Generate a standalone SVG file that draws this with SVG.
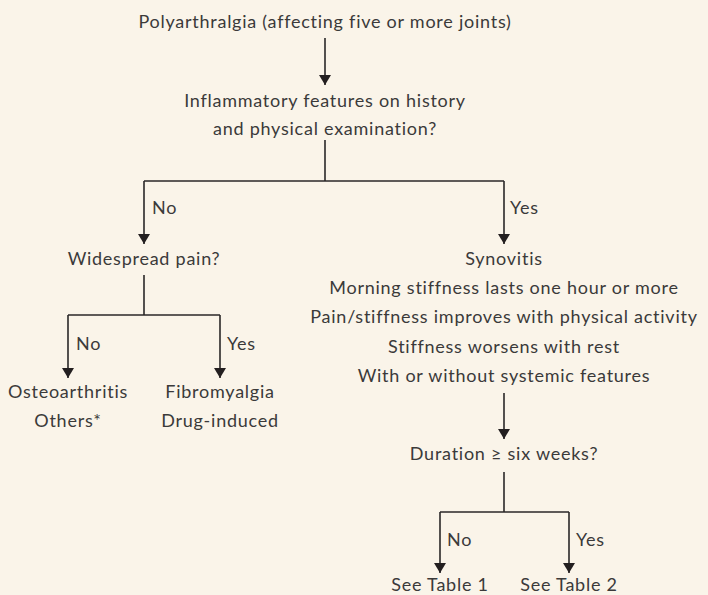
<svg xmlns="http://www.w3.org/2000/svg" width="708" height="595" viewBox="0 0 708 595">
<defs>
<style>
text{font-family:Lato,"Open Sans","Liberation Sans",sans-serif;font-size:18px;letter-spacing:0.75px;fill:#3b3a3a;text-anchor:middle}
text.l{text-anchor:start}
.c line,.c path{stroke:#2a2727;stroke-width:1.6;fill:none}
</style>
<marker id="ah" viewBox="0 0 10 16" refX="10" refY="8" markerWidth="10" markerHeight="16" markerUnits="userSpaceOnUse" orient="auto">
<path d="M0,2 L10,8 L0,14 Z" fill="#231f20"/>
</marker>
</defs>
<rect width="708" height="595" fill="#faf4e9"/>
<g id="n-start"><text x="325" y="28">Polyarthralgia (affecting five or more joints)</text></g>
<g id="n-inflam"><text x="325" y="107">Inflammatory features on history</text><text x="325" y="135">and physical examination?</text></g>
<g id="n-widespread"><text x="144" y="265">Widespread pain?</text></g>
<g id="n-oa"><text x="68" y="398">Osteoarthritis</text><text x="68" y="427">Others*</text></g>
<g id="n-fibro"><text x="220" y="398">Fibromyalgia</text><text x="220" y="427">Drug-induced</text></g>
<g id="n-synovitis"><text x="504" y="265">Synovitis</text><text x="504" y="294">Morning stiffness lasts one hour or more</text><text x="504" y="323">Pain/stiffness improves with physical activity</text><text x="504" y="353">Stiffness worsens with rest</text><text x="504" y="382">With or without systemic features</text></g>
<g id="n-duration"><text x="504" y="460">Duration ≥ six weeks?</text></g>
<g id="n-t1"><text x="440" y="591">See Table 1</text></g>
<g id="n-t2"><text x="569" y="591">See Table 2</text></g>
<g id="connectors" class="c">
<line x1="325" y1="38" x2="325" y2="85" marker-end="url(#ah)"/>
<line x1="325" y1="140" x2="325" y2="181"/>
<path d="M144,181 H504"/>
<line x1="144" y1="181" x2="144" y2="244" marker-end="url(#ah)"/>
<line x1="504" y1="181" x2="504" y2="244" marker-end="url(#ah)"/>
<line x1="144" y1="275" x2="144" y2="315"/>
<path d="M68,315 H220"/>
<line x1="68" y1="315" x2="68" y2="378" marker-end="url(#ah)"/>
<line x1="220" y1="315" x2="220" y2="378" marker-end="url(#ah)"/>
<line x1="504" y1="393" x2="504" y2="439" marker-end="url(#ah)"/>
<line x1="504" y1="472" x2="504" y2="512"/>
<path d="M440,512 H569"/>
<line x1="440" y1="512" x2="440" y2="573" marker-end="url(#ah)"/>
<line x1="569" y1="512" x2="569" y2="573" marker-end="url(#ah)"/>
</g>
<g id="labels">
<text class="l" x="152" y="214">No</text>
<text class="l" x="510" y="214">Yes</text>
<text class="l" x="76" y="350">No</text>
<text class="l" x="227" y="350">Yes</text>
<text class="l" x="447" y="546">No</text>
<text class="l" x="576" y="546">Yes</text>
</g>
</svg>
